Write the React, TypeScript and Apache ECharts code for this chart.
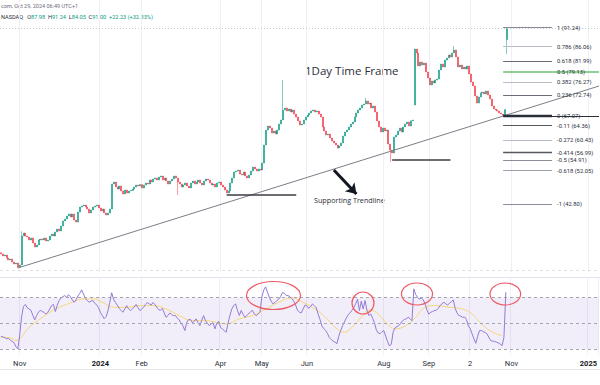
import React, { useEffect, useRef } from 'react';
import * as echarts from 'echarts';

// ---- category axis (one slot per trading bar, incl. empty future bars) ----
const BAR_COUNT_AXIS = 319;
const categories: string[] = Array.from({ length: BAR_COUNT_AXIS }, (_, i) => String(i));

// ---- time-axis tick labels (bar index -> text) ----
const tickIndex = [10, 53, 75, 117, 139, 163, 204, 228, 250, 272, 313];
const tickLabels = ['Nov', '2024', 'Feb', 'Apr', 'May', 'Jun', 'Aug', 'Sep', '2', 'Nov', '2025'];
const boldTicks = ['2024', '2025'];

// ---- daily closes (bar 0 .. bar 269) ----
const closes = [
  29.17, 28.63, 28.9, 28.08, 27.52, 27.8, 26.98, 26.43, 26.7, 25.6,
  26.15, 34.11, 34.93, 34.11, 33.83, 33.01, 33.56, 32.19, 31.09, 31.64,
  33.01, 33.28, 33.01, 33.56, 32.74, 33.01, 34.11, 34.66, 34.11, 35.2,
  36.02, 35.47, 36.85, 38.22, 38.77, 39.59, 40.14, 39.31, 40.14, 38.49,
  37.94, 40.68, 42.05, 42.33, 42.6, 42.05, 41.51, 40.41, 41.23, 42.05,
  42.33, 42.6, 41.78, 40.96, 41.51, 40.41, 39.86, 40.41, 41.51, 48.36,
  48.91, 47.54, 46.99, 47.81, 46.44, 45.62, 46.72, 45.9, 46.44, 46.6,
  46.99, 47.54, 48.09, 47.81, 48.2, 47.26, 48.09, 48.64, 48.36, 49.46,
  48.91, 49.73, 50.01, 49.46, 50.28, 50.56, 49.46, 50.01, 49.19, 48.36,
  49.19, 49.73, 50.56, 50.01, 48.91, 48.36, 47.54, 48.09, 48.64, 47.81,
  47.26, 48.64, 49.19, 48.36, 48.91, 49.46, 48.64, 48.09, 49.19, 49.73,
  49.46, 48.64, 48.09, 48.36, 47.54, 48.64, 48.91, 48.09, 47.54, 46.72,
  45.9, 46.44, 48.64, 50.01, 51.65, 51.92, 52.2, 51.1, 50.83, 51.65,
  50.56, 50.01, 50.83, 51.92, 53.03, 52.48, 51.92, 52.48, 52.2, 54.13,
  59.06, 63.17, 64.27, 63.72, 62.35, 62.9, 62.07, 63.17, 64.82, 65.92,
  68.66, 69.21, 68.38, 68.93, 68.11, 68.66, 67.56, 66.74, 65.64, 64.55,
  64.82, 65.92, 66.74, 67.29, 67.84, 68.38, 68.66, 68.11, 68.38, 67.56,
  66.74, 64.0, 62.9, 61.8, 62.07, 60.98, 60.16, 59.61, 59.06, 58.24,
  58.79, 59.61, 61.53, 62.62, 63.17, 64.0, 64.82, 65.37, 66.74, 67.84,
  68.66, 69.21, 70.03, 70.3, 71.13, 70.3, 70.58, 69.21, 69.76, 68.11,
  65.64, 64.0, 62.62, 63.72, 62.9, 63.17, 59.34, 57.69, 56.87, 61.25,
  61.8, 62.9, 63.72, 62.62, 64.0, 64.82, 65.37, 64.27, 65.7, 65.92,
  85.39, 84.3, 80.73, 81.82, 81.0, 81.55, 79.08, 77.44, 75.52, 76.62,
  76.07, 76.89, 77.17, 79.63, 81.27, 80.45, 82.37, 82.92, 83.75, 83.2,
  84.3, 85.12, 83.2, 80.45, 81.0, 79.9, 80.45, 79.9, 80.73, 78.54,
  76.34, 75.25, 72.51, 70.58, 72.23, 73.33, 73.6, 73.05, 73.87, 72.78,
  71.68, 69.76, 68.93, 68.66, 68.38, 67.84, 67.56, 67.3, 68.77, 91.0,
];
const firstOpen = 29.5;
// bars that gapped (open differs from prior close)
const openOverrides: Record<number, number> = { 220: 70.03, 269: 87.98 };
// visible wicks
const highOverrides: Record<number, number> = { 11: 35.4, 150: 76.89, 194: 71.95, 241: 86.2, 269: 91.24 };
const lowOverrides: Record<number, number> = { 9: 25.33, 94: 45.35, 207: 54.48, 267: 67.07, 269: 84.05 };

// ---- RSI(14) values per bar ----
const rsi = [
  40, 39.5, 39, 38, 38.5, 37, 36, 35, 32, 30.3,
  41, 55, 63, 64.5, 62, 61, 60, 56, 52.6, 56,
  58.5, 60, 59, 58.5, 57, 58.5, 61, 63.6, 64.5, 59,
  64, 67.5, 69.5, 70.5, 71.3, 70, 72, 70.5, 68, 66.2,
  68, 71, 73, 75.7, 72.5, 69, 67.5, 66.2, 67, 67.5,
  65.5, 64, 62, 58.5, 56, 53.5, 55, 59.5, 66, 73.5,
  68.5, 66, 64, 61.5, 60, 58.5, 61, 63.6, 61, 59.8,
  61, 62.5, 64.5, 62, 59.8, 61, 62.3, 64.5, 66, 65,
  64, 66, 64.5, 62.3, 60.5, 60, 61.5, 58, 54.6, 56,
  58, 56.5, 55.9, 55.9, 54, 52.5, 50, 48, 44.4, 50.8,
  52.8, 53, 50.5, 51.5, 53.4, 50.5, 48.2, 52.5, 55.9, 52,
  50, 48.2, 49.5, 50.5, 45.7, 50, 51.5, 47, 45.5, 44.4,
  43.1, 50, 56, 61, 63.5, 65, 60, 56, 59.8, 57,
  54.6, 56, 57.2, 59, 60, 57.2, 55.9, 57, 58.5, 70,
  75.5, 78, 74, 70, 67, 64.9, 66, 67.5, 68.5, 70.5,
  73.8, 73, 71.3, 71.3, 70.5, 69, 67, 64, 60, 58.5,
  58, 61, 64, 63.5, 61.5, 63, 64.9, 63.5, 62, 57,
  53, 48, 46, 44.5, 42, 39, 37.5, 36.2, 35.5, 34.3,
  40, 44.4, 48, 51, 54, 56.5, 58, 60, 62, 65,
  68.5, 59.8, 67, 61, 67.5, 60, 56, 57.2, 54, 50.5,
  45, 42.5, 42, 43.5, 44.4, 40, 36, 32.5, 34, 43.5,
  46.5, 47.5, 48.2, 50, 52, 53, 53.5, 54.6, 53.5, 52,
  76.5, 72, 70, 68.5, 69.5, 68, 65, 60, 57, 58.5,
  59, 59.8, 60, 61.5, 63.6, 65, 66.2, 65, 64, 65.5,
  66.5, 68, 61.5, 58, 55.9, 55.5, 54.6, 54.8, 53, 48,
  46, 42, 38, 34.6, 40, 44.4, 44.4, 43.5, 43, 41.8,
  39, 36.7, 36.3, 36, 35.5, 35, 34, 32.8, 39.2, 73.8,
];

// ---- RSI moving average (bar index, value) ----
const rsiMaIndex = [0, 5, 8, 10, 15, 21, 26, 31, 38, 44, 49, 54, 60, 67, 74, 81, 88, 95, 102, 109, 115, 120, 127, 134, 141, 148, 155, 159, 166, 173, 178, 183, 187, 192, 196, 200, 205, 210, 216, 221, 226, 232, 239, 246, 251, 256, 262, 267];
const rsiMaValue = [39.2, 38.8, 36.7, 38, 46.9, 53.4, 58.5, 62.3, 66.2, 68.8, 68.8, 66.2, 62.3, 62.3, 63.6, 63.6, 61, 55.9, 52, 52, 50.8, 49.5, 53.4, 55.9, 61, 66.2, 69.5, 67.5, 62.3, 54.6, 46.9, 43.1, 46.9, 54.6, 60.3, 58.5, 50.8, 45.7, 48.2, 54.6, 62.3, 63.6, 62.3, 61, 57.2, 49.5, 43.1, 40.5];

// ---- Fibonacci retracement levels ----
const fibRatio = ['1', '0.786', '0.618', '0.5', '0.382', '0.236', '0', '-0.11', '-0.272', '-0.414', '-0.5', '-0.618', '-1'];
const fibPrice = [91.24, 86.06, 81.99, 79.13, 76.27, 72.74, 67.07, 64.36, 60.43, 56.99, 54.91, 52.05, 42.8];
const fibColor = ['#8a8d96', '#b8bbc3', '#6a6d78', '#6cc070', '#b8bbc3', '#6a6d78', '#2a2e39', '#55585f', '#b8bbc3', '#55585f', '#8a8d96', '#9da0a8', '#8a8d96'];
const fibWidth = [1, 1, 1.2, 1.6, 1, 1.2, 2.4, 1.2, 1, 1.4, 1, 1, 1];
const fibStart = 267;
const fibEnd = 293;

// ---- drawn support / trend lines (bar index, price) ----
const trendStart: [number, number] = [9, 25.33];
const trendEnd: [number, number] = [318, 75.24];
const support1 = { from: 120, to: 157, price: 45.5 };
const support2 = { from: 208, to: 239, price: 55.0 };
const arrowFrom: [number, number] = [176.5, 52.2];
const arrowTo: [number, number] = [189, 45.6];

const UP = '#089981';
const DOWN = '#F23645';

function buildOhlc() {
  return closes.map((c, i) => {
    const o = openOverrides[i] !== undefined ? openOverrides[i] : i === 0 ? firstOpen : closes[i - 1];
    const hi = highOverrides[i] !== undefined ? highOverrides[i] : Math.max(o, c);
    const lo = lowOverrides[i] !== undefined ? lowOverrides[i] : Math.min(o, c);
    return [o, c, lo, hi];
  });
}

export default function App() {
  const ref = useRef<HTMLDivElement>(null);

  useEffect(() => {
    if (!ref.current) return;
    const chart = echarts.init(ref.current, undefined, { renderer: 'svg' });
    const tickSet = new Set(tickIndex);
    const labelOf: Record<number, string> = {};
    tickIndex.forEach((t, k) => (labelOf[t] = tickLabels[k]));

    const fibLines: any[] = fibPrice.map((p, k) => [
      {
        coord: [fibStart, p],
        lineStyle: { color: fibColor[k], width: fibWidth[k], type: 'solid' },
        label: {
          show: true,
          position: 'end',
          formatter: `${fibRatio[k]} (${p.toFixed(2)})`,
          fontSize: 5.8,
          color: '#2a2e39',
          fontFamily: 'Roboto',
          distance: 5,
        },
      },
      { coord: [fibEnd, p] },
    ]);
    // 0.5 level and 0 level continue to the right edge
    fibLines.push([
      { coord: [fibEnd, fibPrice[3]], lineStyle: { color: fibColor[3], width: 1.6, type: 'solid' }, label: { show: false } },
      { coord: [BAR_COUNT_AXIS - 1, fibPrice[3]] },
    ]);
    fibLines.push([
      { coord: [fibEnd, fibPrice[6]], lineStyle: { color: '#2a2e39', width: 1, type: 'solid' }, label: { show: false } },
      { coord: [BAR_COUNT_AXIS - 1, fibPrice[6]] },
    ]);

    const drawn: any[] = [
      [
        { coord: trendStart, lineStyle: { color: '#7b7e87', width: 1, type: 'solid' }, label: { show: false } },
        { coord: trendEnd },
      ],
      [
        { coord: [support1.from, support1.price], lineStyle: { color: '#3a3d45', width: 1.5, type: 'solid' }, label: { show: false } },
        { coord: [support1.to, support1.price] },
      ],
      [
        { coord: [support2.from, support2.price], lineStyle: { color: '#3a3d45', width: 1.5, type: 'solid' }, label: { show: false } },
        { coord: [support2.to, support2.price] },
      ],
      [
        { coord: arrowFrom, lineStyle: { color: '#131722', width: 3, type: 'solid' }, label: { show: false } },
        { coord: arrowTo, symbol: 'arrow', symbolSize: [10, 10] },
      ],
      {
        yAxis: 91.0,
        lineStyle: { color: '#c3c6ce', width: 1, type: [1, 2] },
        label: { show: false },
      },
      {
        yAxis: 24.8,
        lineStyle: { color: '#dfe1e6', width: 1, type: [3, 3] },
        label: { show: false },
      },
    ];

    const option: any = {
      animation: false,
      backgroundColor: '#ffffff',
      textStyle: { fontFamily: 'Roboto' },
      grid: [
        { left: 0, right: 0, top: 0, height: 272 },
        { left: 0, right: 0, top: 278, height: 77 },
      ],
      xAxis: [
        {
          type: 'category',
          gridIndex: 0,
          data: categories,
          boundaryGap: true,
          axisLine: { show: false },
          axisTick: { show: false },
          axisLabel: { show: false },
          splitLine: { show: true, interval: (i: number) => tickSet.has(i), lineStyle: { color: '#eef0f5', width: 1 } },
        },
        {
          type: 'category',
          gridIndex: 1,
          data: categories,
          boundaryGap: true,
          axisLine: { show: false },
          axisTick: { show: false },
          axisLabel: {
            show: true,
            interval: (i: number) => tickSet.has(i),
            formatter: (_v: string, i: number) => {
              const t = labelOf[i] || '';
              return boldTicks.includes(t) ? `{b|${t}}` : t;
            },
            fontSize: 7.5,
            color: '#2a2e39',
            margin: 4,
            rich: { b: { fontSize: 7.5, fontWeight: 'bold', color: '#131722' } },
          },
          splitLine: { show: true, interval: (i: number) => tickSet.has(i), lineStyle: { color: '#eef0f5', width: 1 } },
        },
      ],
      yAxis: [
        { type: 'value', gridIndex: 0, min: 24.23, max: 98.83, show: false, splitLine: { show: false } },
        { type: 'value', gridIndex: 1, min: 25.6, max: 84.85, show: false, splitLine: { show: false } },
      ],
      series: [
        {
          type: 'candlestick',
          xAxisIndex: 0,
          yAxisIndex: 0,
          data: buildOhlc(),
          barWidth: 1.5,
          itemStyle: { color: UP, color0: DOWN, borderColor: UP, borderColor0: DOWN, borderWidth: 0.5 },
          markLine: {
            silent: true,
            symbol: ['none', 'none'],
            animation: false,
            label: { show: false },
            data: [...drawn, ...fibLines],
          },
          z: 3,
        },
        {
          type: 'line',
          xAxisIndex: 1,
          yAxisIndex: 1,
          data: rsi,
          symbol: 'none',
          lineStyle: { color: '#9479d6', width: 1 },
          z: 4,
          markArea: {
            silent: true,
            itemStyle: { color: 'rgba(126,87,194,0.1)' },
            data: [[{ yAxis: 70 }, { yAxis: 30 }]],
          },
          markLine: {
            silent: true,
            symbol: ['none', 'none'],
            label: { show: false },
            lineStyle: { color: '#a3a6af', width: 1, type: [3, 3] },
            data: [{ yAxis: 70 }, { yAxis: 50 }, { yAxis: 30 }],
          },
        },
        {
          type: 'line',
          xAxisIndex: 1,
          yAxisIndex: 1,
          data: rsiMaIndex.map((x, k) => [x, rsiMaValue[k]]),
          symbol: 'none',
          smooth: 0.4,
          lineStyle: { color: '#f3d77a', width: 1 },
          z: 3,
        },
      ],
      graphic: [
        { type: 'line', shape: { x1: 0, y1: 277.5, x2: 600, y2: 277.5 }, style: { stroke: '#e0e3eb', lineWidth: 1 }, silent: true },
        { type: 'line', shape: { x1: 0, y1: 369.5, x2: 600, y2: 369.5 }, style: { stroke: '#e6e8ee', lineWidth: 1 }, silent: true },
        {
          type: 'text',
          x: 1,
          y: 3,
          style: { text: 'com, Oct 29, 2024 06:49 UTC+1', fontSize: 5.5, fill: '#6a6d78', fontFamily: 'Roboto' },
        },
        {
          type: 'text',
          x: 1,
          y: 14,
          style: {
            text: '{d|NASDAQ}   {d|O}{g|87.98}  {d|H}{g|91.24}  {d|L}{g|84.05}  {d|C}{g|91.00}  {g|+22.23 (+32.33%)}',
            fontSize: 5.6,
            fontFamily: 'Roboto',
            rich: {
              d: { fontSize: 5.6, fill: '#2a2e39', fontFamily: 'Roboto' },
              g: { fontSize: 5.6, fill: UP, fontFamily: 'Roboto' },
            },
          },
        },
        {
          type: 'text',
          x: 305,
          y: 70,
          style: { text: '1Day Time Frame', fontSize: 11.5, fill: '#2a2e39', fontFamily: 'Open Sans', verticalAlign: 'middle' },
        },
        {
          type: 'text',
          x: 314,
          y: 200,
          style: { text: 'Supporting Trendline', fontSize: 7.2, fill: '#2a2e39', fontFamily: 'Open Sans', verticalAlign: 'middle' },
        },
        { type: 'ellipse', shape: { cx: 273.5, cy: 295.5, rx: 27, ry: 14 }, style: { fill: 'none', stroke: '#ee5a64', lineWidth: 1.2 }, z: 100 },
        { type: 'ellipse', shape: { cx: 363, cy: 303, rx: 11, ry: 11 }, style: { fill: 'none', stroke: '#ee5a64', lineWidth: 1.2 }, z: 100 },
        { type: 'ellipse', shape: { cx: 417, cy: 294, rx: 15.5, ry: 11 }, style: { fill: 'none', stroke: '#ee5a64', lineWidth: 1.2 }, z: 100 },
        { type: 'ellipse', shape: { cx: 505.3, cy: 294, rx: 15.3, ry: 11 }, style: { fill: 'none', stroke: '#ee5a64', lineWidth: 1.2 }, z: 100 },
      ],
    };

    chart.setOption(option);
    return () => chart.dispose();
  }, []);

  return (
    <div
      ref={ref}
      style={{ position: 'fixed', left: 0, top: 0, width: 600, height: 385, background: '#fff' }}
    />
  );
}
